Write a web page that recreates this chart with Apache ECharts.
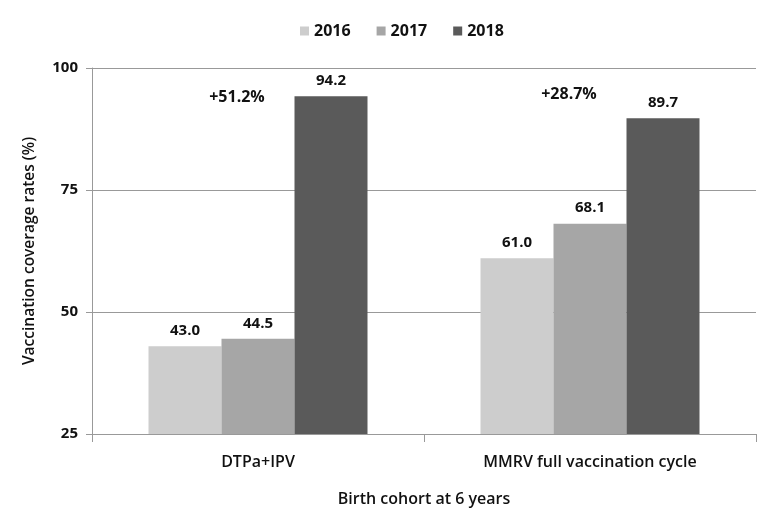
<!DOCTYPE html>
<html><head><meta charset="utf-8">
<script src="https://cdn.jsdelivr.net/npm/echarts@6/dist/echarts.min.js"></script>
<style>html,body{margin:0;padding:0;background:#fff}#c{width:779px;height:512px}</style>
</head><body><div id="c"></div>
<script>
const categories = ['DTPa+IPV', 'MMRV full vaccination cycle'];
const years = ['2016', '2017', '2018'];
const v2016 = [43.0, 61.0];
const v2017 = [44.5, 68.1];
const v2018 = [94.2, 89.7];
const increases = ['+51.2%', '+28.7%'];
const increaseLevels = [93.9, 94.5];
const yTicks = [25, 50, 75, 100];

const colors = ['#cdcdcd', '#a6a6a6', '#5a5a5a'];
const font = 'Open Sans';
const chart = echarts.init(document.getElementById('c'));
const values = [v2016, v2017, v2018];
const option = {
  animation: false,
  color: colors,
  textStyle: {fontFamily: font},
  legend: {
    top: 18, left: 295, itemWidth: 9, itemHeight: 9, itemGap: 26,
    icon: 'rect',
    textStyle: {fontFamily: font, fontSize: 16, fontWeight: 'bold', color: '#111'},
    data: years
  },
  grid: {left: 92, right: 23, top: 68, bottom: 78},
  xAxis: {
    type: 'category', data: categories,
    axisLine: {lineStyle: {color: '#999'}},
    axisTick: {show: true, length: 8, lineStyle: {color: '#999'}},
    axisLabel: {fontFamily: font, fontSize: 16, fontWeight: 600, color: '#111', margin: 20},
    name: 'Birth cohort at 6 years', nameLocation: 'middle', nameGap: 57,
    nameTextStyle: {fontFamily: font, fontSize: 16, fontWeight: 600, color: '#111'}
  },
  yAxis: {
    type: 'value', min: yTicks[0], max: yTicks[yTicks.length - 1], interval: 25,
    axisLine: {show: true, lineStyle: {color: '#999'}},
    axisTick: {show: true, inside: false, length: 6, lineStyle: {color: '#999'}},
    splitLine: {lineStyle: {color: '#999'}},
    axisLabel: {fontFamily: font, fontSize: 15, fontWeight: 'bold', color: '#111', margin: 14},
    name: 'Vaccination coverage rates (%)', nameLocation: 'middle', nameGap: 54,
    nameTextStyle: {fontFamily: font, fontSize: 15.5, fontWeight: 600, color: '#111'}
  },
  series: years.map((y, i) => ({
    name: y, type: 'bar', data: values[i], barWidth: 73, barGap: '0%',
    label: {show: true, position: 'top', distance: 8, formatter: p => p.value.toFixed(1),
      fontFamily: font, fontSize: 15, fontWeight: 'bold', color: '#111'}
  }))
};
chart.setOption(option);
// annotations positioned via the chart's own scales
const gfx = increases.map((t, i) => {
  const px = chart.convertToPixel({gridIndex: 0}, [i, increaseLevels[i]]);
  return {type: 'text', x: px[0] - 21, y: px[1], style: {text: t, font: 'bold 16px "Open Sans"', fill: '#111', align: 'center', verticalAlign: 'middle'}};
});
chart.setOption({graphic: gfx});
</script></body></html>
